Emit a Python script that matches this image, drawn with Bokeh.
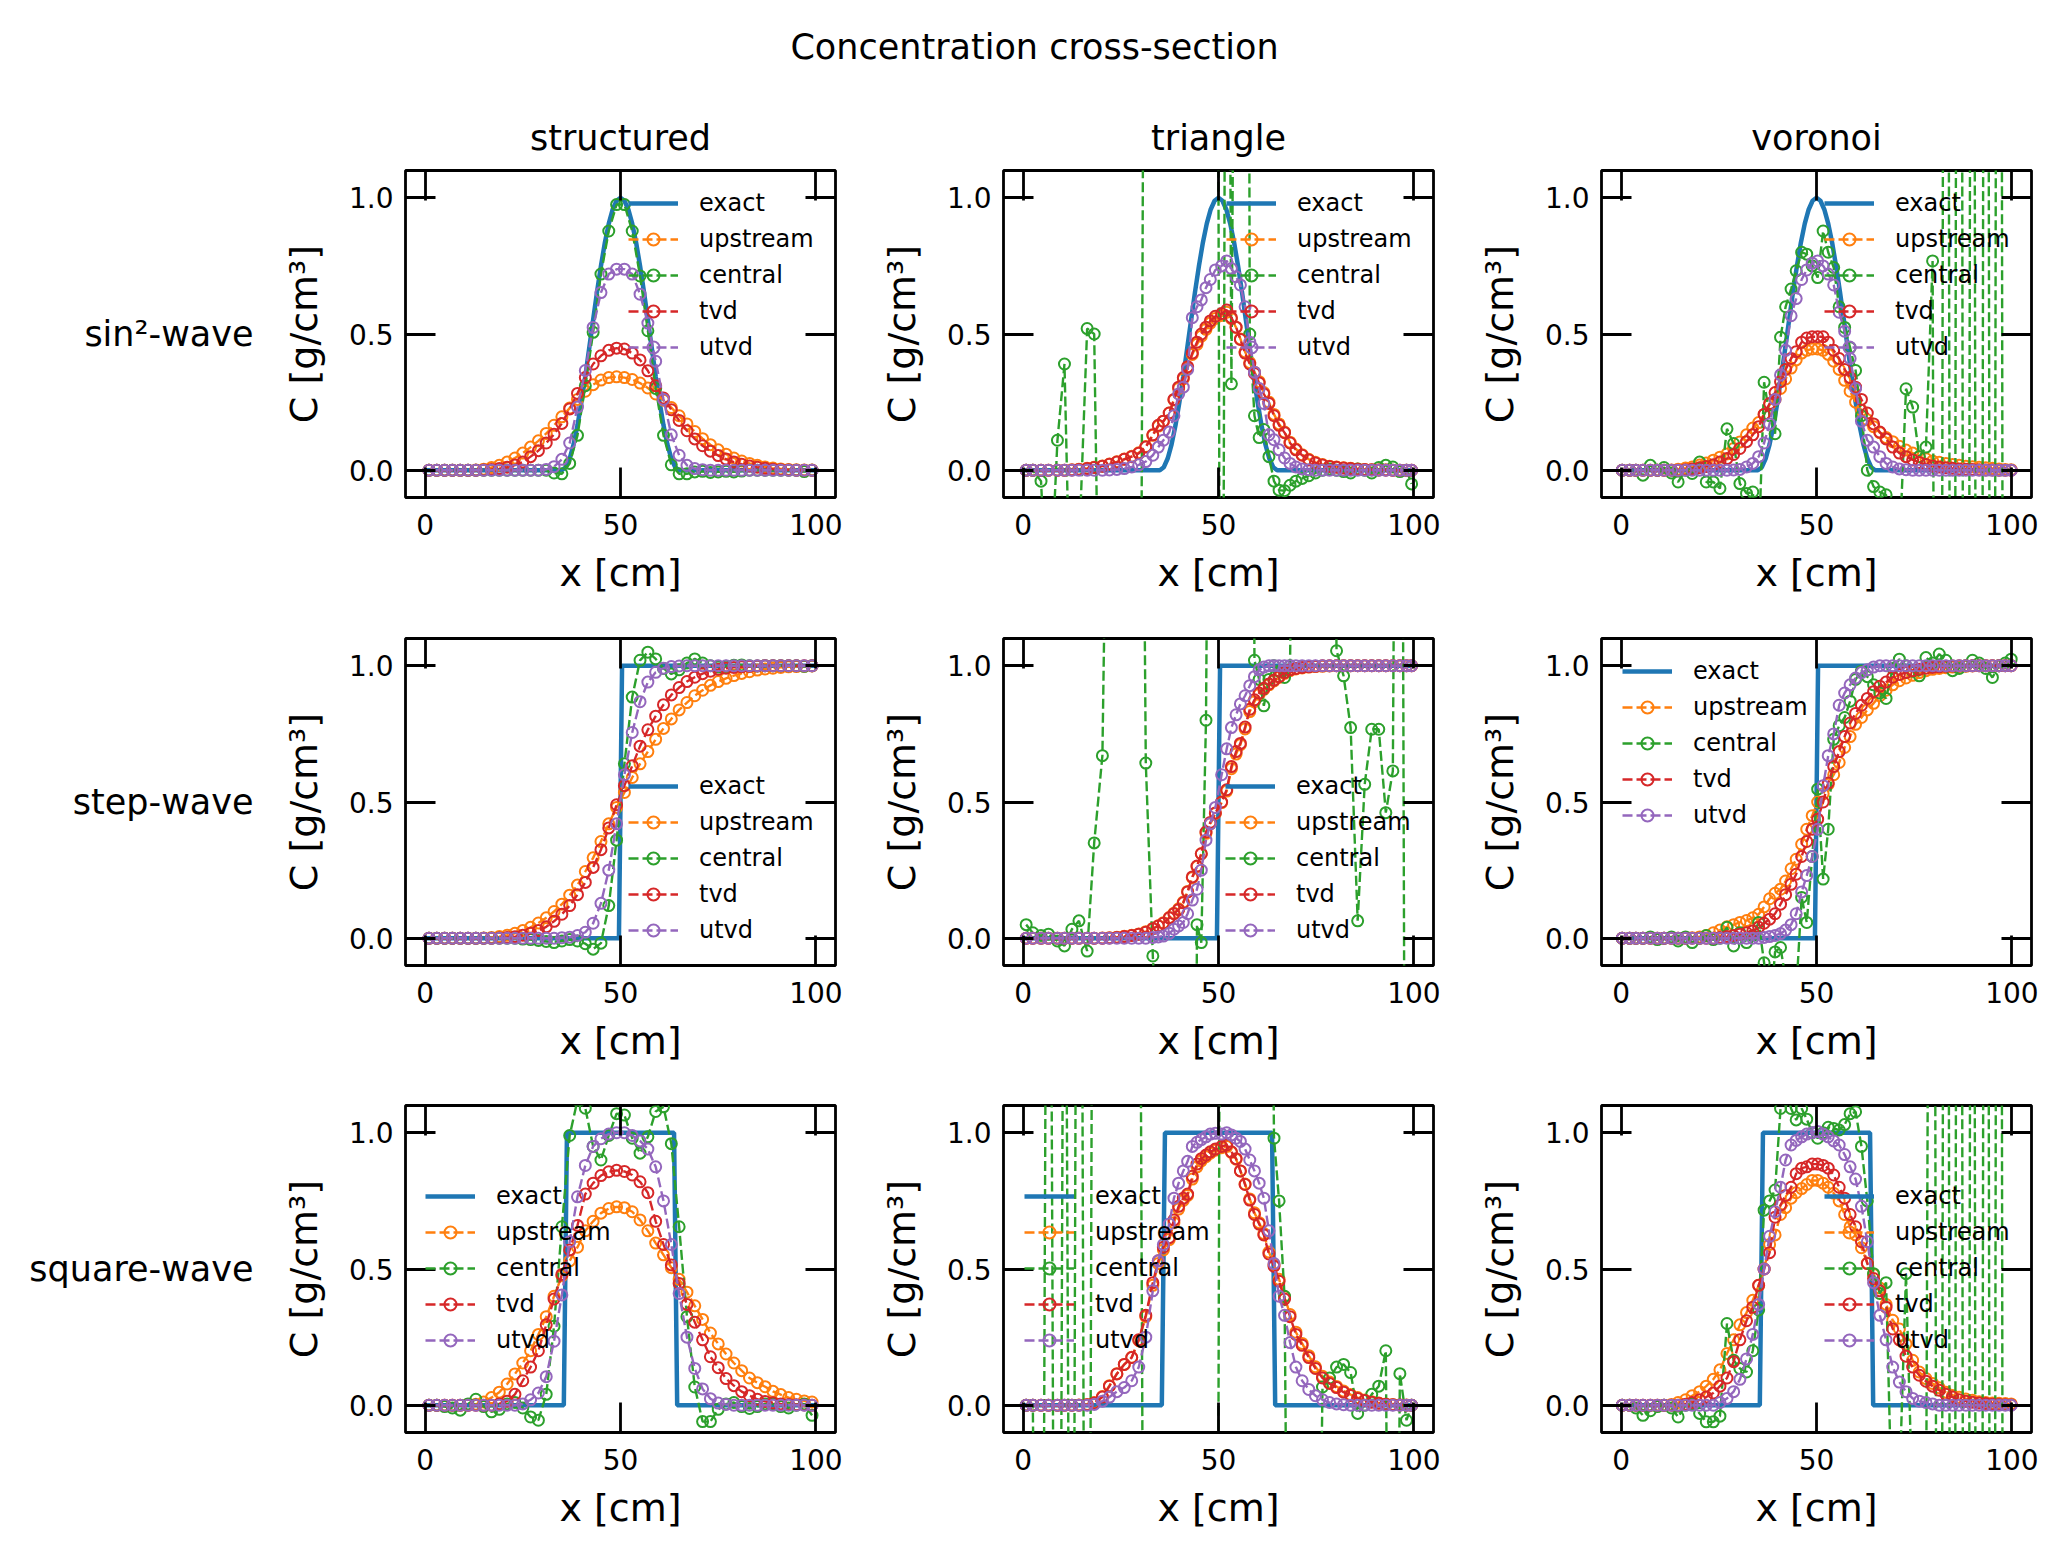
from bokeh.plotting import figure
from bokeh.models import (Range1d, LinearAxis, FixedTicker, NumeralTickFormatter,
                          CustomJSTickFormatter, Legend, LegendItem, Label)
from bokeh.layouts import column, row
from bokeh.embed import file_html
from bokeh.resources import INLINE

# ---------------- data ----------------
wave_names = ["sin\u00b2-wave", "step-wave", "square-wave"]
mesh_names = ["structured", "triangle", "voronoi"]
series_names = ["exact", "upstream", "central", "tvd", "utvd"]
x_ticks = [0, 50, 100]
y_ticks = [0.0, 0.5, 1.0]

# exact solutions
sin_ex_x = [0, 35, 36, 37, 38, 39, 40, 41, 42, 43, 44, 45, 46, 47, 48, 49, 50, 51, 52, 53, 54,
            55, 56, 57, 58, 59, 60, 61, 62, 63, 64, 65, 100]
sin_ex_y = [0, 0, 0.011, 0.043, 0.095, 0.165, 0.25, 0.345, 0.448, 0.552, 0.655, 0.75, 0.835,
            0.905, 0.957, 0.989, 1.0, 0.989, 0.957, 0.905, 0.835, 0.75, 0.655, 0.552, 0.448,
            0.345, 0.25, 0.165, 0.095, 0.043, 0.011, 0, 0]
step_ex_x = [0, 49.6, 50.4, 100]
step_ex_y = [0, 0, 1, 1]
sq_ex_x = [0, 35.5, 36.3, 63.7, 64.5, 100]
sq_ex_y = [0, 0, 1, 1, 0, 0]

# ----- structured mesh -----
struct_x = [1, 3, 5, 7, 9, 11, 13, 15, 17, 19, 21, 23, 25, 27, 29, 31, 33, 35, 37, 39, 41, 43,
            45, 47, 49, 51, 53, 55, 57, 59, 61, 63, 65, 67, 69, 71, 73, 75, 77, 79, 81, 83, 85,
            87, 89, 91, 93, 95, 97, 99]

str_sin_up = [0, 0, 0, 0, 0, 0, 0.001, 0.004, 0.01, 0.018, 0.03, 0.045, 0.063, 0.085, 0.108,
              0.135, 0.165, 0.196, 0.228, 0.26, 0.29, 0.314, 0.331, 0.34, 0.343, 0.34, 0.333,
              0.32, 0.302, 0.28, 0.257, 0.23, 0.2, 0.17, 0.142, 0.116, 0.094, 0.075, 0.059,
              0.045, 0.034, 0.025, 0.018, 0.012, 0.008, 0.005, 0.003, 0.002, 0.001, 0.001]
str_sin_ce = [0, 0, 0, 0, 0, 0, 0, 0, 0, 0, 0, 0, 0, 0, 0, 0, -0.01, -0.013, 0.025, 0.128, 0.31,
              0.506, 0.72, 0.878, 0.975, 0.975, 0.878, 0.713, 0.512, 0.3, 0.128, 0.02, -0.013,
              -0.013, -0.006, -0.004, -0.008, -0.006, -0.004, -0.006, -0.003, 0, 0, 0, 0, 0, 0,
              0, -0.005, 0]
str_sin_tv = [0, 0, 0, 0, 0, 0, 0, 0.001, 0.003, 0.006, 0.011, 0.019, 0.03, 0.05, 0.072, 0.1,
              0.132, 0.172, 0.225, 0.282, 0.34, 0.39, 0.42, 0.44, 0.448, 0.445, 0.43, 0.405,
              0.365, 0.31, 0.265, 0.222, 0.183, 0.145, 0.115, 0.09, 0.07, 0.054, 0.041, 0.03,
              0.022, 0.016, 0.011, 0.007, 0.004, 0.002, 0.001, 0, 0, 0]
str_sin_ut = [0, 0, 0, 0, 0, 0, 0, 0, 0, 0, 0, 0, 0, 0, 0, 0.003, 0.013, 0.04, 0.1, 0.232, 0.366,
              0.524, 0.652, 0.72, 0.738, 0.738, 0.72, 0.646, 0.54, 0.4, 0.26, 0.13, 0.055, 0.018,
              0.006, 0.002, 0, 0, 0, 0, 0, 0, 0, 0, 0, 0, 0, 0, 0, 0]

str_step_up = [0, 0, 0, 0, 0, 0, 0, 0.001, 0.003, 0.006, 0.011, 0.018, 0.028, 0.04, 0.056, 0.075,
               0.098, 0.125, 0.158, 0.195, 0.245, 0.295, 0.355, 0.42, 0.48, 0.535, 0.59, 0.64,
               0.685, 0.73, 0.77, 0.805, 0.838, 0.865, 0.89, 0.91, 0.928, 0.942, 0.954, 0.964,
               0.972, 0.978, 0.984, 0.988, 0.991, 0.994, 0.996, 0.997, 0.998, 0.999]
str_step_ce = [0, 0, 0, 0, 0, 0, 0, 0, 0, 0, 0, 0, -0.003, -0.005, -0.008, -0.012, -0.016, -0.01,
               -0.005, -0.01, -0.02, -0.04, -0.018, 0.12, 0.36, 0.64, 0.885, 1.02, 1.05, 1.025,
               0.99, 0.97, 0.985, 1.01, 1.025, 1.01, 1.0, 0.995, 0.998, 1.002, 1.003, 1.0, 0.999,
               1.0, 1, 1, 1, 1, 0.998, 1]
str_step_tv = [0, 0, 0, 0, 0, 0, 0, 0, 0, 0.001, 0.003, 0.006, 0.011, 0.018, 0.028, 0.042, 0.062,
               0.088, 0.12, 0.16, 0.205, 0.26, 0.325, 0.405, 0.49, 0.56, 0.633, 0.705, 0.765,
               0.815, 0.857, 0.893, 0.92, 0.942, 0.958, 0.971, 0.98, 0.987, 0.991, 0.994, 0.996,
               0.998, 0.999, 1, 1, 1, 1, 1, 1, 1]
str_step_ut = [0, 0, 0, 0, 0, 0, 0, 0, 0, 0, 0, 0, 0, 0, 0, 0, 0, 0.002, 0.004, 0.01, 0.022,
               0.055, 0.128, 0.25, 0.42, 0.6, 0.755, 0.868, 0.94, 0.976, 0.991, 0.997, 0.999,
               1, 1, 1, 1, 1, 1, 1, 1, 1, 1, 1, 1, 1, 1, 1, 1, 1]

str_sq_up = [0, 0, 0, 0, 0, 0, 0.004, 0.012, 0.028, 0.048, 0.078, 0.115, 0.155, 0.2, 0.26, 0.325,
             0.4, 0.475, 0.53, 0.58, 0.64, 0.675, 0.705, 0.722, 0.728, 0.725, 0.71, 0.68, 0.64,
             0.595, 0.552, 0.505, 0.462, 0.415, 0.365, 0.315, 0.265, 0.225, 0.188, 0.155, 0.127,
             0.1, 0.083, 0.068, 0.051, 0.039, 0.028, 0.022, 0.016, 0.012]
str_sq_ce = [0, 0, -0.005, -0.01, -0.018, 0.005, 0.022, -0.005, -0.024, -0.015, 0.005, 0.01,
             -0.01, -0.043, -0.055, 0.04, 0.29, 0.655, 0.99, 1.12, 1.09, 0.95, 0.9, 0.99, 1.07,
             1.065, 0.98, 0.925, 0.985, 1.078, 1.095, 0.96, 0.655, 0.325, 0.067, -0.06, -0.06,
             -0.015, 0.005, 0.01, -0.005, -0.012, -0.005, 0.005, 0.005, -0.005, -0.01, 0, 0.005,
             -0.037]
str_sq_tv = [0, 0, 0, 0, 0, 0, 0, 0, 0, 0.005, 0.015, 0.04, 0.09, 0.14, 0.2, 0.295, 0.39, 0.48,
             0.57, 0.66, 0.775, 0.815, 0.843, 0.857, 0.862, 0.858, 0.845, 0.82, 0.78, 0.675,
             0.59, 0.515, 0.447, 0.37, 0.305, 0.24, 0.178, 0.138, 0.098, 0.072, 0.05, 0.035,
             0.022, 0.014, 0.009, 0.005, 0.003, 0.002, 0.001, 0]
str_sq_ut = [0, 0, 0, 0, 0, 0, 0, 0, 0, 0, 0, 0, 0.005, 0.02, 0.045, 0.105, 0.235, 0.405, 0.6,
             0.765, 0.88, 0.95, 0.978, 0.995, 1.0, 1.0, 0.99, 0.97, 0.94, 0.875, 0.75, 0.59,
             0.41, 0.25, 0.135, 0.06, 0.024, 0.008, 0.003, 0, 0, 0, 0, 0, 0, 0, 0, 0, 0, 0]

# ----- triangle mesh -----
tri_x = [0.8, 2.5, 4.6, 6.5, 8.8, 10.6, 12.5, 14.3, 16.4, 18.2, 20.3, 22.1, 24.0, 25.9, 27.8,
         29.6, 31.4, 33.2, 34.6, 35.9, 37.4, 38.6, 39.8, 41.0, 42.1, 43.3, 44.5, 45.6, 46.8,
         47.9, 49.2, 50.8, 52.1, 53.3, 54.5, 55.6, 56.8, 58.0, 59.2, 60.4, 61.6, 62.9, 64.2,
         65.5, 66.9, 68.3, 69.8, 71.4, 73.1, 74.8, 76.6, 78.4, 80.2, 82.0, 83.8, 85.6, 87.4,
         89.2, 91.0, 92.8, 94.6, 96.4, 98.1, 99.4]

tri_sin_up = [0, 0, 0, 0, 0, 0, 0.002, 0.004, 0.007, 0.011, 0.016, 0.023, 0.031, 0.041, 0.051,
              0.064, 0.087, 0.128, 0.162, 0.18, 0.21, 0.258, 0.3, 0.335, 0.375, 0.425, 0.462,
              0.492, 0.517, 0.54, 0.557, 0.568, 0.58, 0.556, 0.524, 0.482, 0.435, 0.395, 0.36,
              0.325, 0.285, 0.25, 0.205, 0.17, 0.14, 0.103, 0.078, 0.057, 0.04, 0.029, 0.021,
              0.015, 0.012, 0.009, 0.007, 0.005, 0.003, 0.002, 0.001, 0.001, 0, 0, 0, 0]
tri_sin_ce = [0, 0, -0.04, -0.6, 0.11, 0.39, -0.8, -0.3, 0.52, 0.5, -1.5, -2, -1.2, -2.5, -1.8,
              -3, 4, 3, 6, 4, 8, 5, 9, 6, 7, 5, 8, 6, 9, 7, 5, -3, 4, 0.317, 3, 4, 8, 0.5, 0.2,
              0.12, 0.15, 0.05, -0.04, -0.073, -0.075, -0.055, -0.04, -0.03, -0.02, -0.01, 0,
              0.005, 0, -0.005, -0.01, 0.005, 0, -0.01, 0.01, 0.018, 0.012, -0.005, 0, -0.05]
tri_sin_tv = [0, 0, 0, 0, 0, 0, 0.001, 0.003, 0.006, 0.01, 0.015, 0.022, 0.03, 0.04, 0.05, 0.062,
              0.085, 0.13, 0.165, 0.18, 0.21, 0.26, 0.305, 0.34, 0.38, 0.43, 0.47, 0.5, 0.525,
              0.548, 0.565, 0.575, 0.588, 0.56, 0.525, 0.48, 0.43, 0.39, 0.355, 0.32, 0.28,
              0.245, 0.2, 0.165, 0.138, 0.1, 0.075, 0.055, 0.038, 0.027, 0.019, 0.014, 0.011,
              0.008, 0.006, 0.004, 0.003, 0.002, 0.001, 0.001, 0, 0, 0, 0]
tri_sin_ut = [0, 0, 0, 0, 0, 0, 0, 0, 0, 0, 0, 0.001, 0.003, 0.006, 0.012, 0.02, 0.032, 0.055,
              0.085, 0.11, 0.14, 0.2, 0.28, 0.305, 0.37, 0.56, 0.6, 0.625, 0.67, 0.7, 0.735, 0.75,
              0.768, 0.74, 0.71, 0.68, 0.6, 0.47, 0.36, 0.3, 0.245, 0.13, 0.112, 0.075, 0.045,
              0.025, 0.012, 0.005, 0.002, 0, 0, 0, 0, 0, 0, 0, 0, 0, 0, 0, 0, 0, 0, 0]

tri_step_up = [0, 0, 0, 0, 0, 0, 0, 0, 0, 0, 0.001, 0.002, 0.004, 0.007, 0.011, 0.016, 0.024,
               0.036, 0.046, 0.057, 0.076, 0.092, 0.108, 0.133, 0.172, 0.222, 0.263, 0.31, 0.385,
               0.42, 0.458, 0.498, 0.54, 0.622, 0.676, 0.71, 0.768, 0.832, 0.868, 0.895, 0.913,
               0.93, 0.944, 0.957, 0.972, 0.982, 0.988, 0.992, 0.995, 0.997, 0.998, 0.999, 1, 1,
               1, 1, 1, 1, 1, 1, 1, 1, 1, 1]
tri_step_ce = [0.05, 0.02, 0.01, 0.015, -0.01, -0.028, 0.033, 0.064, -0.047, 0.35, 0.67, 2.5, 5,
               4, 3, 4, 0.643, -0.065, -0.5, -2, -3, -2, -4, -3, -2, -3, 0.05, -0.016, 0.8, 3,
               5, 4, 6, 3, 4, 5, 3, 4, 1.02, 0.95, 0.853, 0.95, 1.0, 0.98, 0.957, 1.0, 3, 4, 3,
               5, 4, 3, 1.055, 0.963, 0.773, 0.064, 0.565, 0.767, 0.767, 0.461, 0.614, 5, -3,
               -2]
tri_step_tv = [0, 0, 0, 0, 0, 0, 0, 0, 0, 0, 0, 0.001, 0.003, 0.006, 0.01, 0.015, 0.022, 0.035,
               0.045, 0.055, 0.075, 0.09, 0.105, 0.13, 0.17, 0.225, 0.265, 0.31, 0.39, 0.425,
               0.46, 0.5, 0.545, 0.63, 0.685, 0.715, 0.775, 0.84, 0.875, 0.9, 0.917, 0.933,
               0.947, 0.96, 0.975, 0.985, 0.99, 0.994, 0.996, 0.998, 1, 1, 1, 1, 1, 1, 1, 1, 1,
               1, 1, 1, 1, 1]
tri_step_ut = [0, 0, 0, 0, 0, 0, 0, 0, 0, 0, 0, 0, 0, 0, 0, 0, 0, 0.003, 0.005, 0.008, 0.018,
               0.033, 0.045, 0.058, 0.09, 0.14, 0.18, 0.25, 0.36, 0.42, 0.48, 0.6, 0.695, 0.773,
               0.82, 0.86, 0.89, 0.927, 0.96, 0.985, 0.995, 1.0, 1, 1, 1, 1, 1, 1, 1, 1, 1, 1, 1,
               1, 1, 1, 1, 1, 1, 1, 1, 1, 1, 1]

tri_sq_up = [0, 0, 0, 0, 0, 0, 0, 0.001, 0.003, 0.01, 0.032, 0.072, 0.116, 0.15, 0.176, 0.238,
             0.325, 0.44, 0.52, 0.57, 0.608, 0.67, 0.72, 0.752, 0.77, 0.83, 0.875, 0.897, 0.912,
             0.925, 0.936, 0.945, 0.95, 0.928, 0.903, 0.86, 0.812, 0.757, 0.706, 0.67, 0.63,
             0.562, 0.516, 0.462, 0.398, 0.333, 0.268, 0.227, 0.182, 0.141, 0.106, 0.085,
             0.069, 0.052, 0.039, 0.028, 0.019, 0.013, 0.008, 0.005, 0.003, 0.001, 0.001, 0]
tri_sq_ce = [0, 0, -3, 4, -4, 3, -3, 5, -4, 4, 6, 3, 5, 4, 6, 3, -3, -5, -4, -6, -3, -5, -4, -6,
             -3, -5, -4, -6, -3, -5, -4, 4, 6, 3, 5, 4, 6, 3, 5, 4, 6, 3, 0.98, 0.75, 0.4, -2,
             -3, -4, -3, -2, 0.067, 0.1, 0.14, 0.15, 0.12, -0.03, 0, 0.04, 0.07, 0.2, -3, 0.116,
             -0.055, 0]
tri_sq_tv = [0, 0, 0, 0, 0, 0, 0, 0, 0.002, 0.008, 0.03, 0.07, 0.115, 0.15, 0.175, 0.24, 0.33,
             0.45, 0.53, 0.58, 0.615, 0.68, 0.73, 0.76, 0.775, 0.84, 0.885, 0.905, 0.918, 0.93,
             0.94, 0.95, 0.955, 0.93, 0.905, 0.86, 0.81, 0.753, 0.7, 0.665, 0.625, 0.555, 0.51,
             0.455, 0.39, 0.325, 0.26, 0.22, 0.175, 0.135, 0.1, 0.08, 0.065, 0.048, 0.036,
             0.025, 0.017, 0.011, 0.007, 0.004, 0.002, 0.001, 0, 0]
tri_sq_ut = [0, 0, 0, 0, 0, 0, 0, 0, 0, 0.003, 0.015, 0.03, 0.05, 0.065, 0.09, 0.14, 0.25, 0.42,
             0.53, 0.59, 0.665, 0.76, 0.815, 0.86, 0.895, 0.95, 0.965, 0.975, 0.985, 0.995,
             0.998, 0.995, 1.0, 0.992, 0.98, 0.968, 0.94, 0.9, 0.86, 0.815, 0.76, 0.64, 0.52,
             0.4, 0.33, 0.23, 0.14, 0.09, 0.058, 0.035, 0.02, 0.01, 0.005, 0.002, 0, 0, 0, 0, 0,
             0, 0, 0, 0, 0]

# ----- voronoi mesh -----
vor_x = [0.3, 2.2, 3.8, 5.6, 7.5, 9.3, 11.0, 12.9, 14.6, 16.5, 18.2, 20.1, 21.8, 23.6, 25.3,
         27.1, 28.8, 30.4, 32.1, 33.7, 35.2, 36.6, 38.0, 39.4, 40.8, 42.1, 43.5, 44.8, 46.2,
         47.5, 48.9, 50.3, 51.7, 53.0, 54.4, 55.8, 57.2, 58.6, 60.0, 61.5, 63.0, 64.6, 66.2,
         67.8, 69.5, 71.2, 72.9, 74.6, 76.3, 78.0, 79.7, 81.4, 83.1, 84.8, 86.5, 88.2, 89.9,
         91.6, 93.3, 95.0, 96.7, 98.3, 99.8]

vor_sin_up = [0, 0, 0, 0, 0, 0, 0, 0.001, 0.004, 0.008, 0.012, 0.019, 0.027, 0.037, 0.048, 0.06,
              0.08, 0.104, 0.13, 0.155, 0.175, 0.205, 0.24, 0.26, 0.3, 0.335, 0.375, 0.405, 0.43,
              0.44, 0.445, 0.445, 0.44, 0.425, 0.4, 0.37, 0.33, 0.29, 0.25, 0.22, 0.185, 0.16,
              0.138, 0.12, 0.105, 0.088, 0.074, 0.063, 0.05, 0.042, 0.034, 0.029, 0.025, 0.021,
              0.018, 0.015, 0.013, 0.011, 0.009, 0.007, 0.005, 0.003, 0.002]
vor_sin_ce = [0, 0, 0, -0.018, 0.018, 0, 0.01, -0.01, -0.043, 0, -0.012, 0.03, -0.043, -0.043,
              -0.067, 0.152, 0.098, -0.049, -0.085, -0.08, -0.3, 0.323, 0.2, 0.134, 0.488, 0.6,
              0.665, 0.732, 0.8, 0.793, 0.75, 0.707, 0.878, 0.8, 0.744, 0.6, 0.524, 0.45, 0.366,
              0.2, 0, -0.06, -0.08, -0.09, -0.5, -0.3, 0.299, 0.232, 0.05, 0.085, 0.768, -6, 7,
              -6, 8, -7, 6, -8, 7, -6, 8, -7, -5]
vor_sin_tv = [0, 0, 0, 0, 0, 0, 0, 0, 0, 0.002, 0.005, 0.009, 0.014, 0.02, 0.03, 0.043, 0.058,
              0.08, 0.105, 0.13, 0.16, 0.205, 0.245, 0.285, 0.325, 0.37, 0.41, 0.435, 0.47,
              0.485, 0.49, 0.49, 0.49, 0.47, 0.44, 0.41, 0.37, 0.34, 0.305, 0.26, 0.21, 0.17,
              0.14, 0.115, 0.085, 0.063, 0.05, 0.038, 0.028, 0.021, 0.016, 0.012, 0.009, 0.007,
              0.005, 0.004, 0.003, 0.002, 0.001, 0.001, 0, 0, 0]
vor_sin_ut = [0, 0, 0, 0, 0, 0, 0, 0, 0, 0, 0, 0, 0, 0, 0, 0, 0.001, 0.003, 0.012, 0.025, 0.05,
              0.1, 0.17, 0.26, 0.35, 0.44, 0.567, 0.63, 0.7, 0.735, 0.76, 0.768, 0.75, 0.72,
              0.68, 0.58, 0.51, 0.41, 0.3, 0.18, 0.11, 0.085, 0.05, 0.025, 0.012, 0.005, 0.002,
              0, 0, 0, 0, 0, 0, 0, 0, 0, 0, 0, 0, 0, 0, 0, 0]

vor_step_up = [0, 0, 0, 0, 0, 0, 0, 0, 0, 0, 0.002, 0.005, 0.01, 0.02, 0.03, 0.042, 0.05, 0.058,
               0.065, 0.075, 0.088, 0.115, 0.145, 0.165, 0.18, 0.21, 0.255, 0.29, 0.345, 0.4,
               0.45, 0.5, 0.53, 0.565, 0.6, 0.645, 0.7, 0.74, 0.785, 0.81, 0.838, 0.862, 0.89,
               0.91, 0.93, 0.945, 0.955, 0.965, 0.975, 0.982, 0.987, 0.99, 0.993, 0.995, 0.997,
               0.998, 0.999, 1, 1, 1, 1, 1, 1]
vor_step_ce = [0, 0, 0, 0, 0.005, -0.005, 0, 0.005, -0.01, 0.005, -0.016, 0, 0.01, -0.005, 0,
               0.04, -0.028, 0.02, -0.016, 0.01, 0.058, -0.09, -0.3, -0.05, -0.034, -0.15, -0.3,
               -0.2, 0.15, 0.058, 0.3, 0.547, 0.217, 0.4, 0.73, 0.78, 0.81, 0.87, 0.95, 0.98,
               0.96, 0.93, 0.9, 0.88, 0.99, 1.024, 1.0, 0.98, 0.963, 1.03, 1.01, 1.043, 1.02,
               0.982, 0.99, 1.0, 1.02, 1.01, 0.99, 0.957, 1.0, 1.01, 1.024]
vor_step_tv = [0, 0, 0, 0, 0, 0, 0, 0, 0, 0, 0, 0, 0, 0, 0.003, 0.006, 0.01, 0.015, 0.02, 0.027,
               0.04, 0.055, 0.07, 0.09, 0.125, 0.16, 0.198, 0.235, 0.3, 0.355, 0.4, 0.437, 0.5,
               0.57, 0.63, 0.685, 0.74, 0.79, 0.825, 0.855, 0.88, 0.905, 0.925, 0.94, 0.958,
               0.968, 0.975, 0.982, 0.987, 0.991, 0.994, 0.996, 0.998, 0.999, 1, 1, 1, 1, 1, 1,
               1, 1, 1]
vor_step_ut = [0, 0, 0, 0, 0, 0, 0, 0, 0, 0, 0, 0, 0, 0, 0, 0, 0, 0, 0, 0, 0, 0.003, 0.006,
               0.01, 0.017, 0.03, 0.05, 0.09, 0.17, 0.23, 0.3, 0.4, 0.56, 0.67, 0.75, 0.855, 0.9,
               0.93, 0.955, 0.975, 0.985, 0.995, 1.0, 1, 1, 1, 1, 1, 1, 1, 1, 1, 1, 1, 1, 1, 1, 1,
               1, 1, 1, 1, 1]

vor_sq_up = [0, 0, 0, 0, 0, 0, 0, 0.003, 0.01, 0.02, 0.035, 0.05, 0.07, 0.095, 0.13, 0.19, 0.24,
             0.295, 0.34, 0.385, 0.44, 0.5, 0.59, 0.625, 0.7, 0.725, 0.76, 0.78, 0.795, 0.81,
             0.825, 0.825, 0.815, 0.8, 0.778, 0.75, 0.7, 0.655, 0.625, 0.578, 0.522, 0.48, 0.43,
             0.37, 0.312, 0.28, 0.225, 0.165, 0.122, 0.098, 0.08, 0.064, 0.048, 0.036, 0.029,
             0.023, 0.018, 0.013, 0.01, 0.008, 0.007, 0.006, 0.005]
vor_sq_ce = [0, 0, -0.01, -0.037, -0.02, -0.005, 0, -0.01, -0.043, 0, 0.005, -0.03, -0.061,
             -0.061, -0.04, 0.3, 0.165, 0.135, 0.122, 0.2, 0.35, 0.716, 0.75, 0.79, 1.089, 1.15,
             1.089, 1.047, 1.089, 1.05, 1.0, 0.98, 1.0, 1.02, 1.016, 1.01, 1.03, 1.07, 1.077,
             0.95, 0.75, 0.483, 0.41, 0.45, -0.5, -0.3, 0.483, -0.4, -0.5, -0.6, 6, -6, 7, -6,
             8, -7, 6, -8, 7, -6, 8, -7, -5]
vor_sq_tv = [0, 0, 0, 0, 0, 0, 0, 0, 0, 0.004, 0.01, 0.02, 0.03, 0.045, 0.07, 0.1, 0.16, 0.24,
             0.31, 0.36, 0.44, 0.5, 0.56, 0.69, 0.735, 0.77, 0.8, 0.85, 0.87, 0.875, 0.885,
             0.885, 0.88, 0.87, 0.845, 0.8, 0.76, 0.7, 0.655, 0.6, 0.52, 0.465, 0.42, 0.36, 0.28,
             0.24, 0.18, 0.14, 0.11, 0.088, 0.07, 0.055, 0.04, 0.03, 0.02, 0.015, 0.011, 0.008,
             0.006, 0.004, 0.003, 0.002, 0.001]
vor_sq_ut = [0, 0, 0, 0, 0, 0, 0, 0, 0, 0, 0, 0, 0, 0, 0.01, 0.025, 0.05, 0.095, 0.17, 0.26,
             0.37, 0.5, 0.62, 0.71, 0.8, 0.9, 0.955, 0.972, 0.985, 0.995, 1.0, 1.005, 0.995,
             0.985, 0.97, 0.955, 0.92, 0.875, 0.83, 0.73, 0.6, 0.45, 0.33, 0.24, 0.14, 0.085,
             0.05, 0.025, 0.015, 0.01, 0.005, 0, 0, 0, 0, 0, 0, 0, 0, 0, 0, 0, 0]

# ---------------- styling / layout ----------------
FONT = "DejaVu Sans"
COLORS = ["#1f77b4", "#ff7f0e", "#2ca02c", "#d62728", "#9467bd"]
FW, FH = 430, 327
LABEL_W = 260
LEFT = [145, 148, 148]
RIGHT = 20
TITLE_H = 160
TOP = [10, 31, 30]
BOTTOM = 110
LW = 2.8
TOTAL_W = LABEL_W + sum(LEFT) + 3 * (FW + RIGHT)
FRAME_CX = [LABEL_W + LEFT[0] + FW / 2,
            LABEL_W + LEFT[0] + FW + RIGHT + LEFT[1] + FW / 2,
            LABEL_W + LEFT[0] + FW + RIGHT + LEFT[1] + FW + RIGHT + LEFT[2] + FW / 2]

panels = [
    [(struct_x, str_sin_up, str_sin_ce, str_sin_tv, str_sin_ut, sin_ex_x, sin_ex_y, (223, 135)),
     (tri_x, tri_sin_up, tri_sin_ce, tri_sin_tv, tri_sin_ut, sin_ex_x, sin_ex_y, (223, 135)),
     (vor_x, vor_sin_up, vor_sin_ce, vor_sin_tv, vor_sin_ut, sin_ex_x, sin_ex_y, (223, 135))],
    [(struct_x, str_step_up, str_step_ce, str_step_tv, str_step_ut, step_ex_x, step_ex_y, (223, 20)),
     (tri_x, tri_step_up, tri_step_ce, tri_step_tv, tri_step_ut, step_ex_x, step_ex_y, (222, 20)),
     (vor_x, vor_step_up, vor_step_ce, vor_step_tv, vor_step_ut, step_ex_x, step_ex_y, (21, 135))],
    [(struct_x, str_sq_up, str_sq_ce, str_sq_tv, str_sq_ut, sq_ex_x, sq_ex_y, (20, 77)),
     (tri_x, tri_sq_up, tri_sq_ce, tri_sq_tv, tri_sq_ut, sq_ex_x, sq_ex_y, (21, 77)),
     (vor_x, vor_sq_up, vor_sq_ce, vor_sq_tv, vor_sq_ut, sq_ex_x, sq_ex_y, (223, 77))],
]


def blank_fig(w, h):
    f = figure(width=w, height=h, output_backend="svg", toolbar_location=None, title=None,
               x_axis_location=None, y_axis_location=None, min_border=0,
               x_range=Range1d(0, 1), y_range=Range1d(0, 1),
               background_fill_color="white", border_fill_color="white")
    f.outline_line_color = None
    f.xgrid.visible = False
    f.ygrid.visible = False
    return f


def make_panel(r, c, spec):
    xs, up, ce, tv, ut, ex_x, ex_y, leg_xy = spec
    p = figure(width=LEFT[c] + FW + RIGHT, height=TOP[r] + FH + BOTTOM,
               x_range=Range1d(-5, 105), y_range=Range1d(-0.1, 1.1),
               output_backend="svg", toolbar_location=None, title=None,
               min_border_left=LEFT[c], min_border_right=RIGHT,
               min_border_top=TOP[r], min_border_bottom=BOTTOM,
               background_fill_color="white", border_fill_color="white")
    p.xgrid.visible = False
    p.ygrid.visible = False
    p.outline_line_color = "black"
    p.outline_line_width = LW
    p.outline_line_alpha = 1.0
    p.add_layout(LinearAxis(), "above")
    p.add_layout(LinearAxis(), "right")
    axes = [p.below[0], p.above[0], p.left[0], p.right[0]]
    for ax in axes:
        ax.major_tick_in = 30
        ax.major_tick_out = 0
        ax.major_tick_line_width = LW
        ax.major_tick_line_color = "black"
        ax.minor_tick_line_color = None
        ax.axis_line_color = None
        ax.major_label_text_font = FONT
        ax.major_label_text_font_size = "28px"
        ax.major_label_text_color = "black"
    p.below[0].major_label_standoff = 16
    p.left[0].major_label_standoff = 12
    p.below[0].ticker = FixedTicker(ticks=x_ticks)
    p.above[0].ticker = FixedTicker(ticks=x_ticks)
    p.left[0].ticker = FixedTicker(ticks=y_ticks)
    p.right[0].ticker = FixedTicker(ticks=y_ticks)
    p.left[0].formatter = NumeralTickFormatter(format="0.0")
    for ax in (p.above[0], p.right[0]):
        ax.formatter = CustomJSTickFormatter(code="return '';")
        ax.major_label_text_font_size = "0px"
        ax.major_label_standoff = 0
    for ax, lab, so in ((p.below[0], "x [cm]", 13), (p.left[0], "C [g/cm\u00b3]", 20)):
        ax.axis_label = lab
        ax.axis_label_text_font = FONT
        ax.axis_label_text_font_size = "38px"
        ax.axis_label_text_font_style = "normal"
        ax.axis_label_text_color = "black"
        ax.axis_label_standoff = so

    ex = p.line(ex_x, ex_y, line_color=COLORS[0], line_width=4.5)
    items = [LegendItem(label=series_names[0], renderers=[ex])]
    for name, vals, col in zip(series_names[1:], [up, ce, tv, ut], COLORS[1:]):
        ln = p.line(xs, vals, line_color=col, line_width=2.4, line_dash="10 4")
        sc = p.scatter(xs, vals, marker="circle", size=11, fill_color=None,
                       line_color=col, line_width=2.0)
        items.append(LegendItem(label=name, renderers=[ln, sc]))
    leg = Legend(items=items, location=leg_xy, glyph_width=50, glyph_height=30,
                 label_height=30, spacing=6, padding=0, margin=0, label_standoff=21,
                 label_text_font=FONT, label_text_font_size="24px",
                 label_text_color="black", background_fill_alpha=0, border_line_alpha=0)
    p.add_layout(leg)
    return p


# title strip: main title + column titles
title_fig = blank_fig(TOTAL_W, TITLE_H)
title_fig.add_layout(Label(x=1034, y=TITLE_H - 46, x_units="screen", y_units="screen",
                           text="Concentration cross-section", text_align="center",
                           text_baseline="middle", text_font=FONT, text_font_size="35px",
                           text_color="black"))
for c in range(3):
    title_fig.add_layout(Label(x=FRAME_CX[c], y=TITLE_H - 137, x_units="screen",
                               y_units="screen", text=mesh_names[c], text_align="center",
                               text_baseline="middle", text_font=FONT,
                               text_font_size="35px", text_color="black"))

rows = []
for r in range(3):
    h = TOP[r] + FH + BOTTOM
    lab = blank_fig(LABEL_W, h)
    # the label strip's frame is aligned with the neighbouring panel frames
    lab.add_layout(Label(x=253, y=FH / 2, x_units="screen", y_units="screen",
                         text=wave_names[r], text_align="right", text_baseline="middle",
                         text_font=FONT, text_font_size="35px", text_color="black"))
    rows.append(row(lab, *[make_panel(r, c, panels[r][c]) for c in range(3)]))

layout = column(title_fig, *rows)
open("out.html", "w").write(file_html(layout, INLINE))
